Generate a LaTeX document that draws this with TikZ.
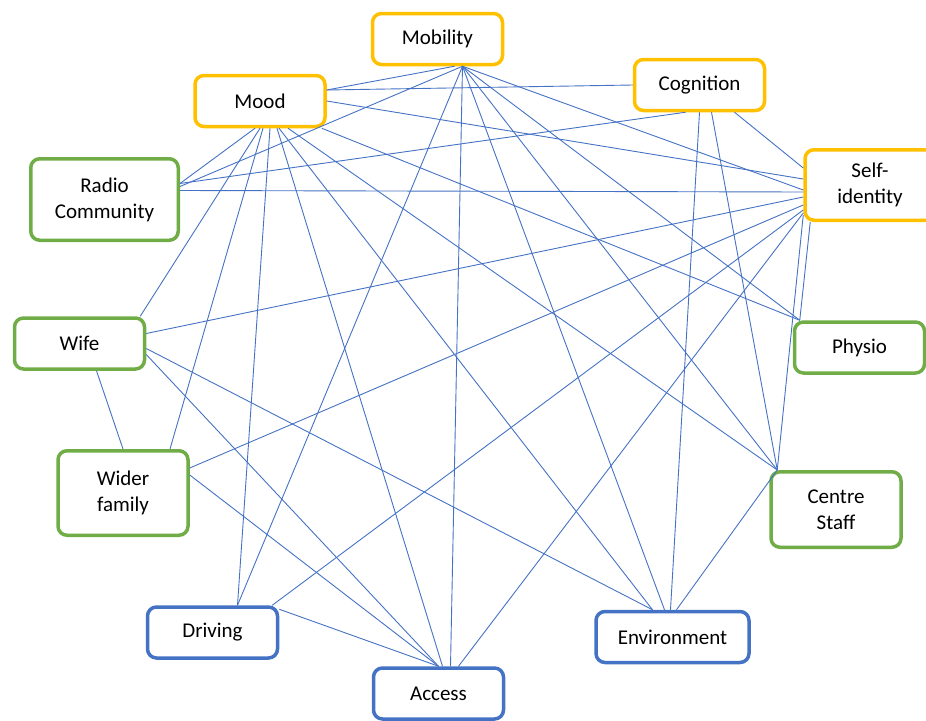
\documentclass[tikz,border=0pt]{standalone}
\usepackage{fontspec}
\setmainfont{Carlito}
\usetikzlibrary{positioning}
\definecolor{gold}{HTML}{FFC000}
\definecolor{leaf}{HTML}{70AD47}
\definecolor{steel}{HTML}{4472C4}
\tikzset{
  theme/.style     = {draw, rounded corners=9pt, line width=3.5pt, fill=white,
                      align=center, inner sep=2pt, minimum width=130pt,
                      minimum height=51pt, font=\fontsize{21}{26}\selectfont},
  personal/.style  = {theme, draw=gold},
  social/.style    = {theme, draw=leaf},
  practical/.style = {theme, draw=steel},
  link/.style      = {draw=steel, line width=0.9pt}
}

\begin{document}
\begin{tikzpicture}[x=1pt, y=-1pt]
\useasboundingbox (0,0) rectangle (926,720);
% Personal themes
\node[personal] (mob) at (437.5,39) {Mobility};
\node[personal] (mood) at (260,101) {Mood};
\node[personal] (cog) at (699.5,85) {Cognition};
\node[personal, minimum height=70.5pt] (self) at (870,185) {Self-\\identity};
% People
\node[social, minimum width=147.5pt, minimum height=81.5pt] (radio) at (104.5,199.5) {Radio\\Community};
\node[social] (wife) at (79.5,343.5) {Wife};
\node[social] (physio) at (859.5,347.5) {Physio};
\node[social, minimum height=84.5pt] (wider) at (123,493) {Wider\\family};
\node[social, minimum height=75.5pt] (staff) at (836,509.5) {Centre\\Staff};
% Practical themes
\node[practical] (drive) at (212.5,632.5) {Driving};
\node[practical, minimum width=153pt] (env) at (672.5,637) {Environment};
\node[practical] (acc) at (438.5,693.5) {Access};
% Mobility links
\draw[link] ([xshift=17pt]mob.south) -- ([yshift=11pt]mood.east);
\draw[link] ([xshift=25pt]mob.south) -- ([yshift=13pt]radio.east);
\draw[link] ([xshift=25pt]mob.south) -- ([xshift=25pt]drive.north);
\draw[link] ([xshift=25pt]mob.south) -- ([xshift=12pt]acc.north);
\draw[link] ([xshift=25pt]mob.south) -- ([xshift=-8pt]env.north);
\draw[link] ([xshift=25pt]mob.south) -- ([xshift=8pt]staff.north west);
\draw[link] ([xshift=25pt]mob.south) -- ([xshift=7pt]physio.north west);
\draw[link] ([xshift=25pt]mob.south) -- ([yshift=-5pt]self.west);
% Mood links
\draw[link] ([yshift=11pt]mood.east) -- (cog.west);
\draw[link] (mood.east) -- ([yshift=6pt]self.west);
\draw[link] ([xshift=-5pt]mood.south east) -- ([xshift=7pt]physio.north west);
\draw[link] ([xshift=-5pt]mood.south) -- ([yshift=16pt]radio.east);
\draw[link] (mood.south) -- ([xshift=-6pt]wife.north east);
\draw[link] ([xshift=3pt]mood.south) -- ([xshift=47pt]wider.north);
\draw[link] ([xshift=10pt]mood.south) -- ([xshift=25pt]drive.north);
\draw[link] ([xshift=17pt]mood.south) -- ([xshift=4pt]acc.north);
\draw[link] ([xshift=19pt]mood.south) -- ([xshift=-20pt]env.north);
\draw[link] ([xshift=28pt]mood.south) -- ([xshift=8pt]staff.north west);
% Cognition links
\draw[link] ([xshift=-14pt]cog.south) -- ([yshift=16pt]radio.east);
\draw[link] ([xshift=35pt]cog.south) -- ([yshift=17pt]self.west);
\draw[link] (cog.south) -- ([xshift=-2pt]env.north);
\draw[link] ([xshift=12pt]cog.south) -- ([xshift=8pt]staff.north west);
% Self-identity links
\draw[link] ([yshift=-7pt]self.west) -- ([yshift=9pt]radio.east);
\draw[link] ([yshift=-12pt]self.west) -- ([yshift=10pt]wife.east);
\draw[link] ([yshift=-20pt]self.west) -- ([yshift=25pt]wider.east);
\draw[link] ([yshift=-25pt]self.west) -- ([xshift=-7pt]drive.north east);
\draw[link] ([yshift=-28pt]self.west) -- ([xshift=20pt]acc.north);
\draw[link] ([yshift=-30pt]self.west) -- ([xshift=8pt]staff.north west);
\draw[link] ([xshift=7pt]self.south west) -- ([xshift=7pt]physio.north west);
% Remaining links
\draw[link] ([xshift=17pt]wife.south) -- (wider.north);
\draw[link] ([yshift=-5pt]wife.east) -- ([xshift=-20pt]env.north);
\draw[link] ([yshift=-11pt]wife.east) -- (acc.north);
\draw[link] ([yshift=18pt]wider.east) -- (acc.north);
\draw[link] ([yshift=-4pt]drive.north east) -- (acc.north);
\draw[link] ([xshift=4pt]env.north) -- ([xshift=8pt]staff.north west);
\end{tikzpicture}
\end{document}
